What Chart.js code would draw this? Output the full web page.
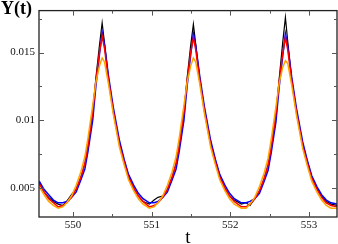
<!DOCTYPE html>
<html>
<head>
<meta charset="utf-8">
<script src="https://cdn.jsdelivr.net/npm/chart.js@4.4.1/dist/chart.umd.min.js"></script>
<style>
  html, body { margin: 0; padding: 0; background: #fff; }
  #wrap { width: 338px; height: 244px; position: relative; }
</style>
</head>
<body>
<div id="wrap"><canvas id="myChart1"></canvas></div>
<script>
// time samples (shared by all series)
const tVals = [
    549.57, 549.63, 549.69, 549.75,
    549.81, 549.87, 549.92, 549.98, 550.04, 550.10, 550.15, 550.19, 550.25, 550.29, 550.335, 550.37,
    550.40, 550.45, 550.51, 550.59, 550.65, 550.705, 550.77, 550.83, 550.89,
    550.97, 551.03, 551.08, 551.14, 551.20, 551.26, 551.31, 551.35, 551.41, 551.45, 551.495, 551.53,
    551.56, 551.61, 551.67, 551.75, 551.81, 551.865, 551.93, 551.99, 552.05,
    552.14, 552.20, 552.25, 552.31, 552.37, 552.43, 552.48, 552.52, 552.58, 552.62, 552.665, 552.70,
    552.73, 552.78, 552.84, 552.92, 552.98, 553.035, 553.10, 553.16, 553.22,
    553.28, 553.36
];

const yBlack = [
    0.0054, 0.0047, 0.0043, 0.0040,
    0.0038, 0.0037, 0.0040, 0.0045, 0.0049, 0.0058, 0.0068, 0.0081, 0.0106, 0.0131, 0.0155, 0.0172,
    0.0157, 0.0131, 0.0108, 0.0083, 0.0070, 0.0059, 0.0050, 0.0044, 0.0040,
    0.0038, 0.0041, 0.0043, 0.0044, 0.0049, 0.0058, 0.0068, 0.0081, 0.0106, 0.0131, 0.0155, 0.0171,
    0.0156, 0.0131, 0.0108, 0.0083, 0.0070, 0.0059, 0.0050, 0.0044, 0.0041,
    0.0038, 0.0039, 0.0037, 0.0042, 0.0047, 0.0057, 0.0067, 0.0080, 0.0105, 0.0130, 0.0157, 0.0176,
    0.0158, 0.0130, 0.0107, 0.0082, 0.0069, 0.0058, 0.0050, 0.0044, 0.0040,
    0.0038, 0.0037
];

const yBlue = [
    0.0055, 0.0049, 0.0045, 0.0041,
    0.0039, 0.0039, 0.0040, 0.0043, 0.0047, 0.0056, 0.0064, 0.0077, 0.0100, 0.0125, 0.0148, 0.0165,
    0.0156, 0.0133, 0.0110, 0.0085, 0.0071, 0.0060, 0.0052, 0.0046, 0.0042,
    0.0039, 0.0039, 0.0040, 0.0043, 0.0047, 0.0056, 0.0064, 0.0077, 0.0100, 0.0125, 0.0148, 0.0164,
    0.0155, 0.0133, 0.0110, 0.0085, 0.0071, 0.0060, 0.0052, 0.0046, 0.0042,
    0.0039, 0.0039, 0.0040, 0.0042, 0.0046, 0.0055, 0.0063, 0.0076, 0.0099, 0.0124, 0.0147, 0.0164,
    0.0155, 0.0132, 0.0109, 0.0084, 0.0070, 0.0059, 0.0051, 0.0045, 0.0041,
    0.0039, 0.0038
];

const yRed = [
    0.0053, 0.0047, 0.0042, 0.0039,
    0.0036, 0.0037, 0.0039, 0.0043, 0.0049, 0.0058, 0.0068, 0.0081, 0.0106, 0.0129, 0.0150, 0.0162,
    0.0153, 0.0130, 0.0107, 0.0082, 0.0069, 0.0058, 0.0050, 0.0044, 0.0040,
    0.0036, 0.0037, 0.0039, 0.0043, 0.0049, 0.0058, 0.0068, 0.0081, 0.0106, 0.0129, 0.0150, 0.0161,
    0.0152, 0.0130, 0.0107, 0.0082, 0.0069, 0.0058, 0.0050, 0.0044, 0.0040,
    0.0036, 0.0036, 0.0038, 0.0042, 0.0048, 0.0057, 0.0067, 0.0080, 0.0105, 0.0128, 0.0149, 0.0161,
    0.0152, 0.0129, 0.0106, 0.0081, 0.0068, 0.0057, 0.0049, 0.0043, 0.0039,
    0.0037, 0.0036
];

const yOrange = [
    0.0051, 0.0045, 0.0040, 0.0037,
    0.0035, 0.0036, 0.0039, 0.0044, 0.0052, 0.0062, 0.0073, 0.0087, 0.0111, 0.0128, 0.0140, 0.0146,
    0.0143, 0.0127, 0.0105, 0.0080, 0.0067, 0.0056, 0.0048, 0.0042, 0.0038,
    0.0035, 0.0036, 0.0039, 0.0044, 0.0052, 0.0062, 0.0073, 0.0087, 0.0111, 0.0128, 0.0140, 0.0146,
    0.0143, 0.0127, 0.0105, 0.0080, 0.0067, 0.0056, 0.0048, 0.0042, 0.0038,
    0.0035, 0.0035, 0.0038, 0.0043, 0.0051, 0.0061, 0.0072, 0.0086, 0.0110, 0.0127, 0.0139, 0.0144,
    0.0142, 0.0126, 0.0104, 0.0079, 0.0066, 0.0055, 0.0047, 0.0041, 0.0037,
    0.0035, 0.0035
];

// axis ticks
const xTicks = [550, 551, 552, 553];
const xTickLabels = ['550', '551', '552', '553'];
const xMinor = [549.5, 550.5, 551.5, 552.5, 553.5];
const yTicks = [0.005, 0.01, 0.015];
const yTickLabels = ['0.005', '0.01', '0.015'];
const yMinor = [0.0025, 0.0075, 0.0125, 0.0175];

const serif = '"Liberation Serif", "DejaVu Serif", serif';

function pts(ys) {
    return tVals.map((t, i) => ({ x: t, y: ys[i] }));
}

// draw order: first dataset ends on top
const series = [
    { data: yOrange, color: '#ffa500', w: 1.5 },
    { data: yRed, color: '#ff0000', w: 1.5 },
    { data: yBlue, color: '#0000ff', w: 1.5 },
    { data: yBlack, color: '#000000', w: 1.2 }
];

const frame = {
    id: 'frame',
    afterDatasetsDraw: function (chart) {
        const ctx = chart.ctx;
        const a = chart.chartArea;
        const xs = chart.scales.x;
        const ys = chart.scales.y;
        ctx.save();
        ctx.strokeStyle = '#222';
        ctx.lineWidth = 1.3;
        ctx.strokeRect(a.left, a.top, a.right - a.left, a.bottom - a.top);

        ctx.lineWidth = 1;
        ctx.strokeStyle = '#555';
        function xTick(v, len) {
            const px = Math.round(xs.getPixelForValue(v)) + 0.5;
            if (px < a.left || px > a.right) return;
            ctx.beginPath();
            ctx.moveTo(px, a.bottom); ctx.lineTo(px, a.bottom - len);
            ctx.moveTo(px, a.top); ctx.lineTo(px, a.top + len);
            ctx.stroke();
        }
        function yTick(v, len) {
            const py = Math.round(ys.getPixelForValue(v)) + 0.5;
            if (py < a.top || py > a.bottom) return;
            ctx.beginPath();
            ctx.moveTo(a.left, py); ctx.lineTo(a.left + len, py);
            ctx.moveTo(a.right, py); ctx.lineTo(a.right - len, py);
            ctx.stroke();
        }
        xTicks.forEach(v => xTick(v, 5));
        xMinor.forEach(v => xTick(v, 3));
        yTicks.forEach(v => yTick(v, 5));
        yMinor.forEach(v => yTick(v, 3));

        // axis titles
        ctx.fillStyle = '#000';
        ctx.textBaseline = 'alphabetic';
        ctx.textAlign = 'left';
        ctx.font = 'bold 18px ' + serif;
        ctx.fillText('Y(t)', 1, 14);
        ctx.textAlign = 'center';
        ctx.font = '19px ' + serif;
        ctx.fillText('t', 188, 243);
        ctx.restore();
    }
};

const oneChart = new Chart(document.getElementById('myChart1'), {
    type: 'line',
    data: {
        datasets: series.map(s => ({
            data: pts(s.data),
            borderColor: s.color,
            backgroundColor: s.color,
            borderWidth: s.w,
            pointRadius: 0,
            tension: 0,
            fill: false
        }))
    },
    options: {
        responsive: true,
        maintainAspectRatio: false,
        animation: false,
        layout: { padding: { top: 8, right: 1, left: 0, bottom: 0 } },
        plugins: {
            legend: { display: false },
            tooltip: { enabled: false }
        },
        scales: {
            x: {
                type: 'linear',
                min: 549.567,
                max: 553.356,
                grid: { display: false, drawTicks: false },
                border: { display: false },
                afterBuildTicks: function (scale) {
                    scale.ticks = xTicks.map(v => ({ value: v }));
                },
                afterFit: function (scale) { scale.height = 27; },
                ticks: {
                    padding: 2,
                    color: '#111',
                    maxRotation: 0,
                    font: { family: serif, size: 11 },
                    callback: function (v) { return xTickLabels[xTicks.indexOf(v)]; }
                }
            },
            y: {
                type: 'linear',
                min: 0.00285,
                max: 0.0181,
                grid: { display: false, drawTicks: false },
                border: { display: false },
                afterBuildTicks: function (scale) {
                    scale.ticks = yTicks.map(v => ({ value: v }));
                },
                afterFit: function (scale) { scale.width = 39; },
                ticks: {
                    padding: 4,
                    color: '#111',
                    font: { family: serif, size: 11 },
                    callback: function (v) { return yTickLabels[yTicks.indexOf(v)]; }
                }
            }
        }
    },
    plugins: [frame]
});
</script>
</body>
</html>
